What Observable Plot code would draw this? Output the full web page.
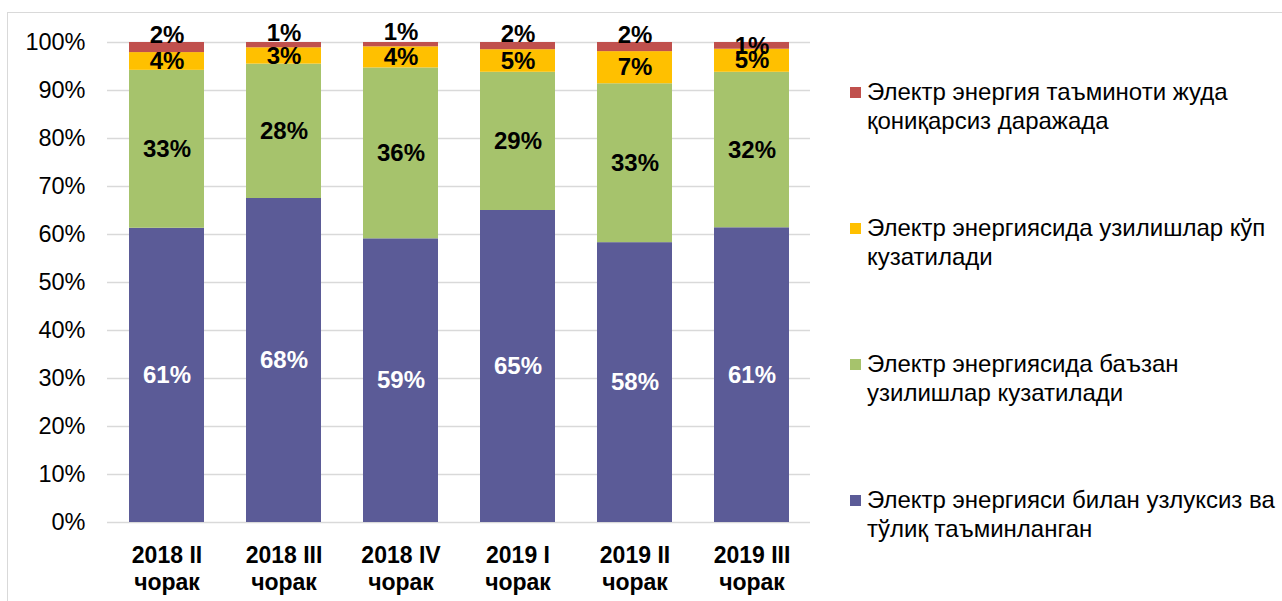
<!DOCTYPE html>
<html>
<head>
<meta charset="utf-8">
<script src="https://cdn.jsdelivr.net/npm/d3@7"></script>
<script src="https://cdn.jsdelivr.net/npm/@observablehq/plot@0.6"></script>
<style>
  html, body { margin: 0; padding: 0; background: #fff; overflow: hidden; }
  body { width: 1282px; height: 601px; position: relative; font-family: "Liberation Sans", Arial, sans-serif; }
  #frame { position: absolute; left: 7px; top: 12px; width: 1400px; height: 800px; border: 1.5px solid #d9d9d9; box-sizing: border-box; }
  #chart { position: absolute; left: 0; top: 0; }
  #legend { position: absolute; left: 850px; top: 77px; }
  .item { display: flex; align-items: flex-start; height: 58px; margin-bottom: 78px; }
  .sw { width: 11px; height: 11px; margin-top: 10px; margin-right: 6px; flex: none; }
  .lab { font-size: 24px; line-height: 29px; color: #000; white-space: nowrap; }
</style>
</head>
<body>
<div id="frame"></div>
<div id="chart"></div>
<div id="legend"></div>
<script>
const quarters = ["2018 II", "2018 III", "2018 IV", "2019 I", "2019 II", "2019 III"];
const quarterSuffix = "чорак";
const seriesNames = [
  "Электр энергияси билан узлуксиз ва тўлиқ таъминланган",
  "Электр энергиясида баъзан узилишлар кузатилади",
  "Электр энергиясида узилишлар кўп кузатилади",
  "Электр энергия таъминоти жуда қониқарсиз даражада"
];
const legendLines = [
  ["Электр энергияси билан узлуксиз ва", "тўлиқ таъминланган"],
  ["Электр энергиясида баъзан", "узилишлар кузатилади"],
  ["Электр энергиясида узилишлар кўп", "кузатилади"],
  ["Электр энергия таъминоти жуда", "қониқарсиз даражада"]
];
const seriesColors = ["#5B5B97", "#A6C36C", "#FFC000", "#C0504D"];
const fullSupply = [61.3, 67.5, 59.1, 65.0, 58.3, 61.4];
const sometimesCuts = [32.9, 28.0, 35.6, 28.8, 33.1, 32.4];
const oftenCuts = [3.7, 3.4, 4.4, 4.7, 6.7, 4.8];
const veryPoor = [2.1, 1.1, 0.9, 1.5, 1.9, 1.4];
const yTicks = [0, 10, 20, 30, 40, 50, 60, 70, 80, 90, 100];

const seriesValues = [fullSupply, sometimesCuts, oftenCuts, veryPoor];
const data = [];
quarters.forEach((q, i) => {
  seriesNames.forEach((s, j) => data.push({quarter: q, series: s, value: seriesValues[j][i]}));
});
const pct = d => Math.round(d.value) + "%";
const lastQ = quarters[quarters.length - 1];
const stackOpts = extra => Plot.stackY({x: "quarter", y: "value", z: "series", order: seriesNames, ...extra});
const labelFont = {fontSize: 24, fontWeight: "bold"};

const chart = Plot.plot({
  width: 840,
  height: 601,
  marginTop: 42,
  marginBottom: 79,
  marginLeft: 107,
  marginRight: 30,
  style: {fontFamily: "'Liberation Sans', Arial, sans-serif", color: "#000", background: "transparent"},
  x: {domain: quarters, paddingInner: 0.36, paddingOuter: 0.18, label: null},
  y: {domain: [0, 100], label: null},
  color: {domain: seriesNames, range: seriesColors},
  marks: [
    Plot.gridY(yTicks, {stroke: "#d9d9d9", strokeOpacity: 1, strokeWidth: 1.4}),
    Plot.barY(data, {x: "quarter", y: "value", fill: "series", order: seriesNames}),
    Plot.text(data, stackOpts({text: d => d.series === seriesNames[0] ? pct(d) : null, fill: "white", ...labelFont})),
    Plot.text(data, stackOpts({text: d => (d.series === seriesNames[1] || d.series === seriesNames[2]) ? pct(d) : null, fill: "black", ...labelFont})),
    Plot.text(data, stackOpts({text: d => (d.series === seriesNames[3] && d.quarter !== lastQ) ? pct(d) : null, fill: "black", ...labelFont, dy: -12})),
    Plot.text(data, stackOpts({text: d => (d.series === seriesNames[3] && d.quarter === lastQ) ? pct(d) : null, fill: "black", ...labelFont})),
    Plot.axisY(yTicks, {tickSize: 0, tickPadding: 22, fontSize: 23.5, tickFormat: d => d + "%", label: null}),
    Plot.axisX({tickSize: 0, tickPadding: 21, fontSize: 23, fontWeight: "bold", lineHeight: 1.17, lineAnchor: "top", tickFormat: d => d + "\n" + quarterSuffix, label: null})
  ]
});
document.getElementById("chart").appendChild(chart);

// legend (top to bottom: red, yellow, green, purple)
const legend = d3.select("#legend");
[3, 2, 1, 0].forEach(j => {
  const it = legend.append("div").attr("class", "item");
  it.append("div").attr("class", "sw").style("background", seriesColors[j]);
  const lab = it.append("div").attr("class", "lab");
  legendLines[j].forEach(l => lab.append("div").text(l));
});
</script>
</body>
</html>
